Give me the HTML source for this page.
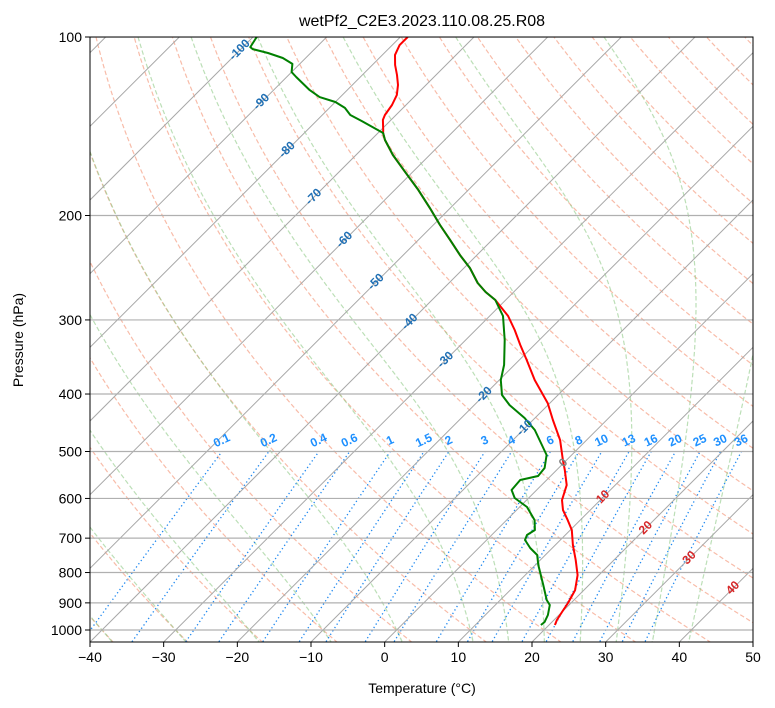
<!DOCTYPE html>
<html><head><meta charset="utf-8"><style>
body{margin:0;background:#fff;}
svg{display:block;font-family:"Liberation Sans","DejaVu Sans",sans-serif;}
</style></head><body>
<svg id="chart" width="775" height="708" viewBox="0 0 775 708" xmlns="http://www.w3.org/2000/svg">
<defs><clipPath id="clip"><rect x="90" y="37" width="663" height="605"/></clipPath></defs>
<rect x="0" y="0" width="775" height="708" fill="#fff"/>
<g id="bg" clip-path="url(#clip)"></g>
<g id="data" clip-path="url(#clip)"></g>
<g id="labels"></g>
<rect x="90" y="37" width="663" height="605" fill="none" stroke="#000" stroke-width="1"/>
<g id="axes"></g>
<text x="422" y="26" text-anchor="middle" font-size="16" fill="#000">wetPf2_C2E3.2023.110.08.25.R08</text>
<text x="422" y="693" text-anchor="middle" font-size="14" fill="#000">Temperature (°C)</text>
<text x="23" y="340" text-anchor="middle" font-size="14" fill="#000" transform="rotate(-90 23 340)">Pressure (hPa)</text>
</svg>
<script>
const tempP=[100,103.2,107.2,111.5,115.9,120.5,125.3,130.2,135.4,138,143.5,145.2,149.2,158.1,169,181.1,194.2,207.5,219.9,233.2,245.2,259.9,269.2,277.7,295.4,312,330.7,350.5,378.8,414.3,442.5,478.3,516.9,537.3,569.6,603.8,627.7,652.6,678.3,719.2,762.1,807.9,856.4,900.6,932.5,962,980.9];
const tempT=[-79,-79,-78.3,-76.9,-75.3,-73.8,-72.6,-71.9,-71.5,-71.1,-69.7,-69.3,-68.1,-65,-61,-56.8,-52.8,-49.1,-45.7,-42.3,-39.2,-36.1,-33.8,-31.4,-27.5,-24.7,-21.9,-19,-15.2,-10.3,-7.3,-3.6,-0.5,1.1,3.4,4.8,6.3,8.3,10.2,12.4,14.8,17.1,18.8,19.6,20,20.4,20.8];
const dewP=[100,104,104.8,106.4,108.5,111,114.6,116.8,122.9,126.3,128.7,131.7,135.4,138.6,145.2,149.2,158.1,169,181.1,194.2,207.5,219.9,233.2,245.2,259.9,269.2,277.7,295.4,324.3,357.3,378.8,401.6,417.6,439.1,460,487.5,506.9,533.2,550,558.5,580.7,599,620.3,652.6,678.3,691.6,705.1,727.4,747.4,777,839.9,890.1,907.6,943.6,969.4,980.9];
const dewT=[-99.5,-99,-98.4,-95.8,-93.1,-91,-90,-88.7,-85.1,-82.8,-80,-77.9,-76.2,-73.8,-69.3,-68.1,-65,-61,-56.8,-52.8,-49.1,-45.7,-42.3,-39.2,-36.1,-33.8,-31.4,-28.2,-24.7,-21.4,-19.8,-17.6,-15.2,-11.4,-8.4,-5.4,-3.4,-1.9,-1.7,-3.6,-3.4,-1.9,1,3.8,5.2,4.8,5.2,7,8.9,10.4,13.8,16.3,17.4,18.5,19,18.9];
const xTicks=[-40,-30,-20,-10,0,10,20,30,40,50];
const pTicks=[100,200,300,400,500,600,700,800,900,1000];
const mixW=[0.1,0.2,0.4,0.6,1,1.5,2,3,4,6,8,10,13,16,20,25,30,36];
const mixLbl=["0.1","0.2","0.4","0.6","1","1.5","2","3","4","6","8","10","13","16","20","25","30","36"];
const dryT0=[-40,-30,-20,-10,0,10,20,30,40,50,60,70,80,90,100,110,120,130,140,150,160,170,180,190,200];
const moistT0=[-50,-40,-30,-20,-10,0,10,15,20,25,30,35,40];
const isoLblT=[-100,-90,-80,-70,-60,-50,-40,-30,-20,-10,0,10,20,30,40];
const isoLblP=[105.2,128.7,155.1,186.2,219.9,259,302.4,350.5,401.6,456.4,523,596.8,672.9,756.2,849.9];

const NS="http://www.w3.org/2000/svg";
const L=90,R=753,T0=37,B=642,PX=663/90;
function yOf(p){return 37+593*Math.log10(p/100);}
function xOf(t,p){return L+(t+40)*PX+(B-yOf(p));}
function mk(tag,attrs,parent){const e=document.createElementNS(NS,tag);for(const k in attrs)e.setAttribute(k,attrs[k]);parent.appendChild(e);return e;}
const bg=document.getElementById('bg'),dg=document.getElementById('data'),lg=document.getElementById('labels'),ax=document.getElementById('axes');
function pathFrom(pts){return pts.map((q,i)=>(i?'L':'M')+q[0].toFixed(1)+','+q[1].toFixed(1)).join('');}
const pLevels=[];for(let lp=Math.log(1050);lp>=Math.log(95);lp-=0.02)pLevels.push(Math.exp(lp));

dryT0.forEach(t0=>{const th=t0+273.15;const pts=pLevels.map(p=>[xOf(th*Math.pow(p/1000,0.2857)-273.15,p),yOf(p)]);
const e=mk('path',{d:pathFrom(pts),fill:'none',stroke:'#f6a68c','stroke-opacity':'0.75','stroke-width':'1.2','stroke-dasharray':'4.5,2.5'},bg);

});
function es(tc){return 6.112*Math.exp(17.67*tc/(tc+243.5));}
function dTdp(p,tk){const e=es(tk-273.15);const rs=0.622*e/(p-e);return (287.04*tk+2.501e6*rs)/(1004.6+2.501e6*2.501e6*rs*0.622/(287.04*tk*tk))/p;}
moistT0.forEach(t0=>{let pts=[];
[[1000,100],[1000,1060]].forEach(([ps,pe])=>{let p=ps,t=t0+273.15;const n=200;const dp=(pe-ps)/n;const seg=[[xOf(t-273.15,p),yOf(p)]];
for(let i=0;i<n;i++){const k1=dTdp(p,t),k2=dTdp(p+dp/2,t+dp*k1/2),k3=dTdp(p+dp/2,t+dp*k2/2),k4=dTdp(p+dp,t+dp*k3);t+=dp*(k1+2*k2+2*k3+k4)/6;p+=dp;seg.push([xOf(t-273.15,p),yOf(p)]);}
if(pts.length===0)pts=seg.slice().reverse();else pts=pts.concat(seg.slice(1));});
const e=mk('path',{d:pathFrom(pts),fill:'none',stroke:'#90c987','stroke-opacity':'0.6','stroke-width':'1.2','stroke-dasharray':'4.5,2.5'},bg);

});
function tdOf(w,p){const e=w*1e-3*p/(0.622+w*1e-3);const l=Math.log(e/6.112);return 243.5*l/(17.67-l);}
mixW.forEach((w,i)=>{const pts=[1060,1000,900,800,700,600,500].map(p=>[xOf(tdOf(w,p),p),yOf(p)]);
const e=mk('path',{d:pathFrom(pts),fill:'none',stroke:'#1e88f0','stroke-width':'1.3','stroke-dasharray':'1.3,2.7'},bg);


const x=xOf(tdOf(w,500),500);const y=441;
const tx=mk('text',{x:x.toFixed(1),y:y,'text-anchor':'middle','dominant-baseline':'middle','font-size':'12','font-weight':'bold',fill:'#1e90ff',transform:`rotate(-25 ${x.toFixed(1)} ${y})`},lg);
tx.textContent=mixLbl[i];

});
for(let t=-160;t<=50;t+=10){const e=mk('line',{x1:xOf(t,1050),y1:yOf(1050),x2:xOf(t,90),y2:yOf(90),stroke:'#a8a8a8','stroke-width':'1'},bg);

}
pTicks.forEach(p=>{const y=yOf(p);const e=mk('line',{x1:L,y1:y,x2:R,y2:y,stroke:'#b0b0b0','stroke-width':'1.2'},bg);

});
isoLblT.forEach((t,i)=>{const p=isoLblP[i];const x=xOf(t,p),y=yOf(p);
const col=t<0?'#1f6fb4':(t>0?'#d62728':'#808080');
const tx=mk('text',{x:x.toFixed(1),y:y.toFixed(1),'text-anchor':'middle','dominant-baseline':'middle','font-size':'12','font-weight':'bold',fill:col,transform:`rotate(-45 ${x.toFixed(1)} ${y.toFixed(1)})`},lg);
tx.textContent=String(t);

});
const tp=mk('path',{d:pathFrom(tempP.map((p,i)=>[xOf(tempT[i],p),yOf(p)])),fill:'none',stroke:'#ff0000','stroke-width':'2','stroke-linejoin':'round'},dg);


const dp=mk('path',{d:pathFrom(dewP.map((p,i)=>[xOf(dewT[i],p),yOf(p)])),fill:'none',stroke:'#008000','stroke-width':'2','stroke-linejoin':'round'},dg);


xTicks.forEach(t=>{const x=L+(t+40)*PX;
const tk=mk('line',{x1:x,y1:B,x2:x,y2:B+5,stroke:'#000','stroke-width':'1'},ax);


const tx=mk('text',{x:x,y:B+20,'text-anchor':'middle','font-size':'14',fill:'#000'},ax);
tx.textContent=(t<0?'\u2212'+(-t):String(t));

});
pTicks.forEach(p=>{const y=yOf(p);
const tk=mk('line',{x1:L-5,y1:y,x2:L,y2:y,stroke:'#000','stroke-width':'1'},ax);


const tx=mk('text',{x:L-8,y:y+5,'text-anchor':'end','font-size':'14',fill:'#000'},ax);
tx.textContent=String(p);

});
</script>
</body></html>
